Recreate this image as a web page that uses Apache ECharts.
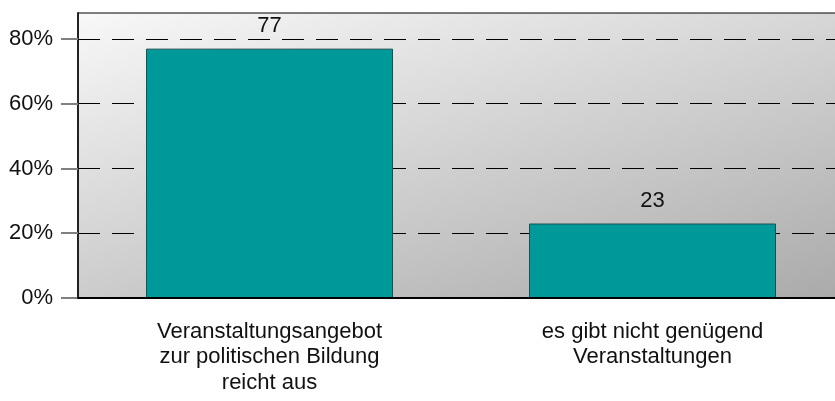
<!DOCTYPE html>
<html>
<head>
<meta charset="utf-8">
<script src="https://cdn.jsdelivr.net/npm/echarts@6/dist/echarts.min.js"></script>
<style>
  html, body { margin: 0; padding: 0; background: #ffffff; }
  #chart { width: 835px; height: 401px; }
</style>
</head>
<body>
<div id="chart"></div>
<script>
// Survey answers, in percent
const categories = [
  'Veranstaltungsangebot\nzur politischen Bildung\nreicht aus',
  'es gibt nicht genügend\nVeranstaltungen'
];
const values = [77, 23];
const yTicks = [0, 20, 40, 60, 80];

const FONT = "'Liberation Sans', Arial, sans-serif";

const chart = echarts.init(document.getElementById('chart'), null, { renderer: 'canvas' });

// Diagonal grey shading of the plot area, lighter at top-left
const plotShade = new echarts.graphic.LinearGradient(78, 13, 209, 477, [
  { offset: 0, color: '#f8f8f8' },
  { offset: 1, color: '#aaaaaa' }
], true);

chart.setOption({
  animation: false,
  backgroundColor: '#ffffff',
  grid: {
    left: 78,
    top: 13,
    width: 766,
    bottom: 103,
    show: true,
    backgroundColor: plotShade,
    borderColor: '#000000',
    borderWidth: 1,
    containLabel: false,
    outerBoundsMode: 'none'
  },
  xAxis: {
    type: 'category',
    data: categories,
    axisLine: { show: true, lineStyle: { color: '#000000', width: 2 } },
    axisTick: { show: false },
    axisLabel: {
      margin: 21,
      fontFamily: FONT,
      fontSize: 22,
      lineHeight: 25.5,
      color: '#111111',
      align: 'center',
      interval: 0
    },
    splitLine: { show: false },
    z: 5
  },
  yAxis: {
    type: 'value',
    min: 0,
    max: 88,
    interval: 20,
    axisLine: { show: true, lineStyle: { color: '#222222', width: 2 } },
    axisTick: {
      show: true,
      length: 17,
      customValues: yTicks,
      lineStyle: { color: '#808080', width: 2 }
    },
    axisLabel: {
      margin: 25,
      customValues: yTicks,
      fontFamily: FONT,
      fontSize: 22,
      color: '#111111',
      formatter: v => v + '%'
    },
    splitLine: {
      show: true,
      lineStyle: { color: '#000000', width: 1, type: [22, 12] }
    }
  },
  series: [{
    type: 'bar',
    data: values,
    barWidth: 247,
    itemStyle: {
      color: '#009999',
      borderColor: '#1f4f4f',
      borderWidth: 1
    },
    label: {
      show: true,
      position: 'top',
      distance: 12,
      fontFamily: FONT,
      fontSize: 22,
      color: '#111111',
      formatter: '{c}'
    },
    z: 3
  }]
});
</script>
</body>
</html>
